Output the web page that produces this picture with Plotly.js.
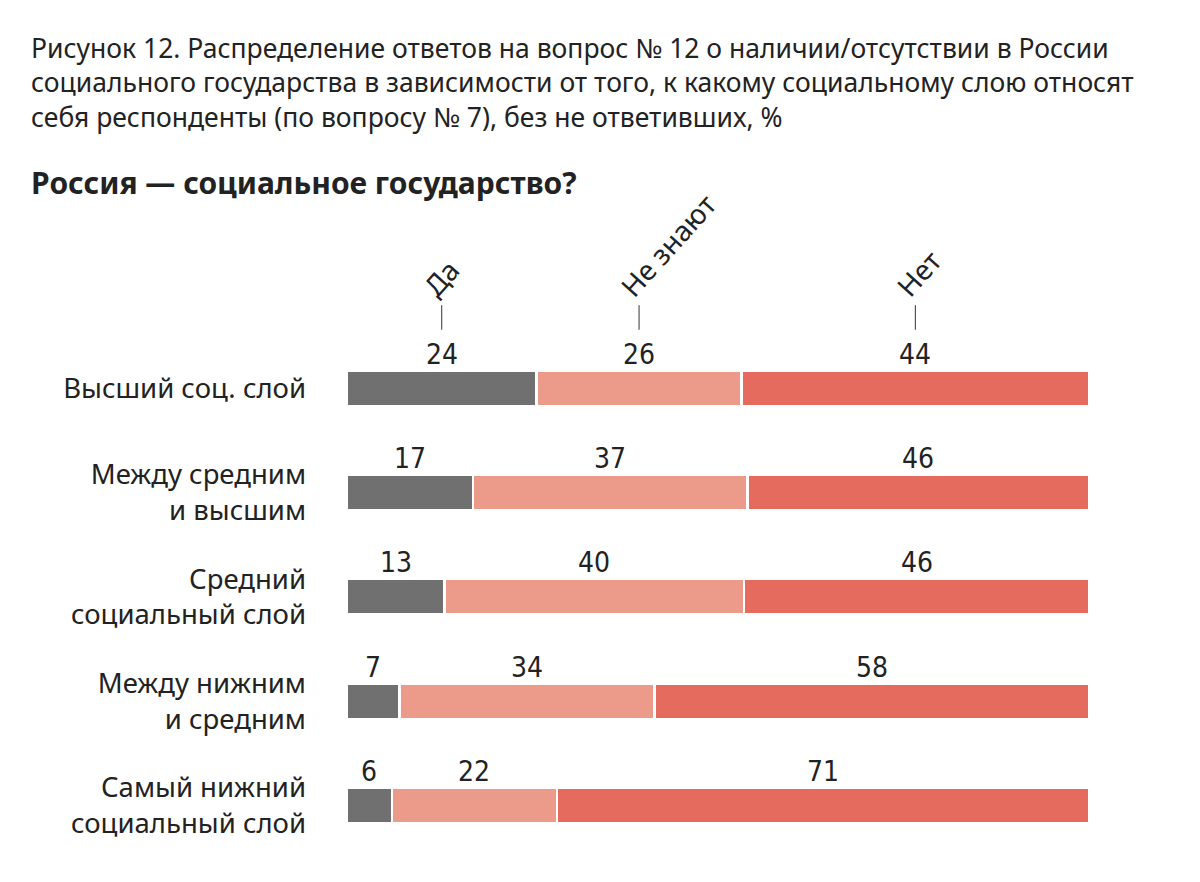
<!DOCTYPE html>
<html>
<head>
<meta charset="utf-8">
<script src="https://cdn.plot.ly/plotly-3.0.1.min.js"></script>
<style>html,body{margin:0;padding:0;background:#fff;}#chart{width:1200px;height:882px;}</style>
</head>
<body>
<div id="chart"></div>
<script>
const categories = ["Высший соц. слой", "Между средним<br>и высшим", "Средний<br>социальный слой", "Между нижним<br>и средним", "Самый нижний<br>социальный слой"];
const seriesNames = ["Да", "Не знают", "Нет"];
const yesValues = [24, 17, 13, 7, 6];
const dontKnowValues = [26, 37, 40, 34, 22];
const noValues = [44, 46, 46, 58, 71];
const colors = ["#707070", "#EC9A89", "#E46B5E"];

const series = [yesValues, dontKnowValues, noValues];
const textColor = "#222222";
const mainFont = "Noto Sans, Lato, sans-serif";
const numFont = "Liberation Sans Narrow, DejaVu Sans Condensed, Roboto Condensed, Noto Sans, sans-serif";
const headerSize = 28;
const headerAngle = 48;

const ctx = document.createElement("canvas").getContext("2d");
ctx.font = headerSize + "px 'Noto Sans'";

const traces = series.map((vals, i) => ({
  type: "bar",
  orientation: "h",
  name: seriesNames[i],
  y: categories,
  x: vals,
  marker: {color: colors[i], line: {color: "#ffffff", width: 2.5}},
  hoverinfo: "skip"
}));

const annotations = [];
const shapes = [];
const rad = headerAngle * Math.PI / 180;
categories.forEach((cat, r) => {
  const total = series.reduce((s, arr) => s + arr[r], 0);
  let cum = 0;
  series.forEach((arr, i) => {
    const share = arr[r] / total * 100;
    const mid = cum + share / 2;
    cum += share;
    annotations.push({
      xref: "x", yref: "y", x: mid, y: cat, yshift: 34,
      text: String(arr[r]), showarrow: false,
      xanchor: "center", yanchor: "middle",
      font: {family: numFont, size: 28, color: textColor}
    });
    if (r === 0) {
      shapes.push({type: "line", xref: "x", yref: "paper", x0: mid, x1: mid, y0: 1.012, y1: 1.059,
        line: {color: "#333", width: 1}});
      const w = ctx.measureText(seriesNames[i]).width;
      annotations.push({
        xref: "x", yref: "paper", x: mid, y: 1.059,
        xshift: (w / 2) * Math.cos(rad) - 13, yshift: (w / 2) * Math.sin(rad) + 14,
        text: seriesNames[i], showarrow: false, textangle: -headerAngle,
        xanchor: "center", yanchor: "middle",
        font: {family: mainFont, size: headerSize, color: textColor}
      });
    }
  });
});

annotations.push({
  xref: "paper", yref: "paper", x: -(347 - 29) / 742, y: (336 - 183) / 522 + 1,
  xanchor: "left", yanchor: "middle", showarrow: false,
  text: "<b>Россия — социальное государство?</b>",
  font: {family: mainFont, size: 30, color: textColor}
});

const layout = {
  width: 1200, height: 882,
  margin: {l: 347, r: 111, t: 336, b: 24},
  paper_bgcolor: "#ffffff", plot_bgcolor: "#ffffff",
  barmode: "stack", barnorm: "percent", bargap: 0.66,
  showlegend: false,
  title: {
    text: "Рисунок 12. Распределение ответов на вопрос № 12 о наличии/отсутствии в России<br>социального государства в зависимости от того, к какому социальному слою относят<br>себя респонденты (по вопросу № 7), без не ответивших, %",
    xref: "container", yref: "container", x: 31/1200, xanchor: "left", y: 1 - 58/882, yanchor: "top",
    font: {family: mainFont, size: 26.5, color: textColor}
  },
  xaxis: {range: [0, 100], visible: false, fixedrange: true},
  yaxis: {autorange: "reversed", showgrid: false, zeroline: false, showline: false, ticks: "",
    ticklabelstandoff: 40, tickfont: {family: mainFont, size: 27.5, color: textColor}, fixedrange: true},
  annotations: annotations,
  shapes: shapes
};

Plotly.newPlot("chart", traces, layout, {displayModeBar: false, staticPlot: true});
</script>
</body>
</html>
